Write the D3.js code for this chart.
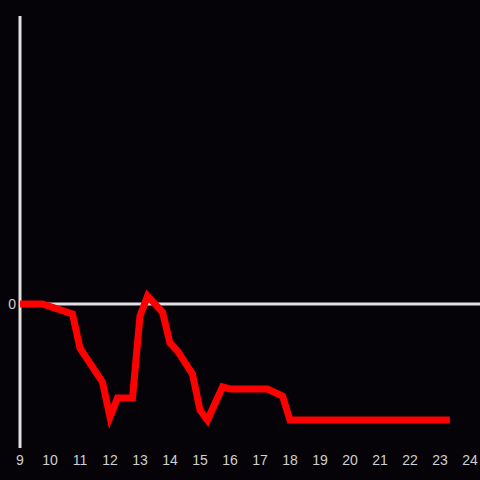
<!DOCTYPE html>
<html><head><meta charset="utf-8">
<script src="https://cdn.jsdelivr.net/npm/d3@7"></script>
<style>html,body{margin:0;padding:0;background:#050308;}svg{display:block;}</style>
</head><body>
<script>
const hours = [9.0, 9.75, 10.75, 11.0, 11.75, 12.0, 12.25, 12.75, 13.0, 13.25, 13.75, 14.0, 14.25, 14.75, 15.0, 15.25, 15.75, 16.0, 17.25, 17.75, 18.0, 23.33];
const values = [0, 0, -0.069, -0.306, -0.542, -0.785, -0.653, -0.653, -0.083, 0.056, -0.056, -0.271, -0.326, -0.486, -0.736, -0.806, -0.576, -0.59, -0.59, -0.639, -0.806, -0.806];
const xTicks = [9,10,11,12,13,14,15,16,17,18,19,20,21,22,23,24];
const yTicks = [0];

const W = 480, H = 480;
const svg = d3.select("body").append("svg").attr("width", W).attr("height", H);
svg.append("rect").attr("width", W).attr("height", H).attr("fill", "#050308");

const x = d3.scaleLinear().domain([9, 24]).range([20, 470]);
const y = d3.scaleLinear().domain([-1, 2]).range([448, 16]);

svg.append("line").attr("x1", 20).attr("x2", 20).attr("y1", y(2)).attr("y2", y(-1))
  .attr("stroke", "#e0e0e0").attr("stroke-width", 3);
svg.append("line").attr("x1", 20).attr("x2", 480).attr("y1", y(0)).attr("y2", y(0))
  .attr("stroke", "#e0e0e0").attr("stroke-width", 3);

svg.selectAll("text.xt").data(xTicks).enter().append("text")
  .attr("class", "xt").attr("x", d => x(d)).attr("y", 465)
  .attr("text-anchor", "middle").attr("fill", "#d0d0d0")
  .style("font-family", "Liberation Sans, Arial, sans-serif").style("font-size", "14px")
  .text(d => d);

svg.selectAll("text.yt").data(yTicks).enter().append("text")
  .attr("class", "yt").attr("x", 16).attr("y", d => y(d)).attr("dy", "0.35em")
  .attr("text-anchor", "end").attr("fill", "#d0d0d0")
  .style("font-family", "Liberation Sans, Arial, sans-serif").style("font-size", "14px")
  .text(d => d);

const pts = hours.map((h, i) => [h, values[i]]);
svg.append("path").datum(pts)
  .attr("d", d3.line().x(d => x(d[0])).y(d => y(d[1])))
  .attr("fill", "none").attr("stroke", "#ff0000").attr("stroke-width", 7)
  .attr("stroke-linejoin", "miter");
</script>
</body></html>
